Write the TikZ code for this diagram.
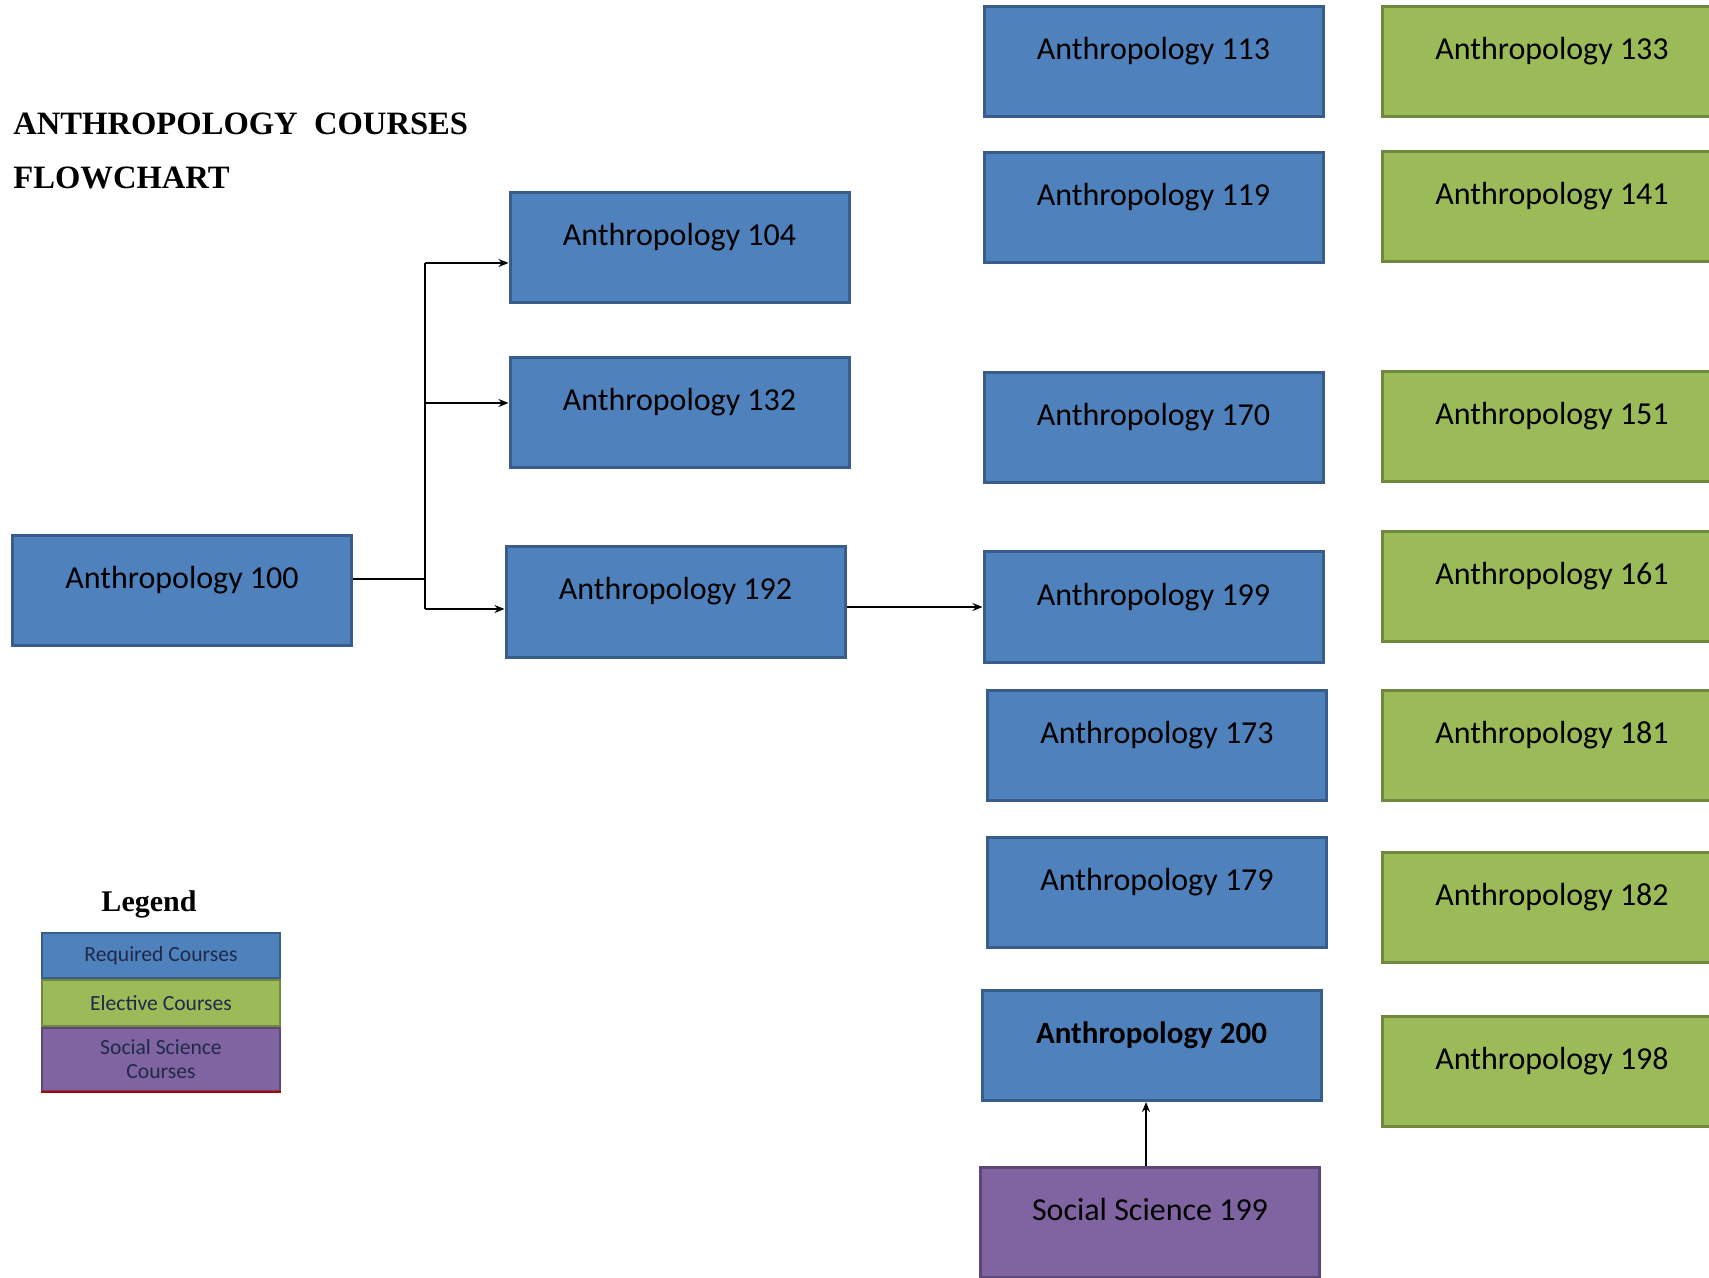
\documentclass[tikz,border=0pt]{standalone}
\usepackage{fontspec}
\setmainfont{Liberation Serif}
\newfontfamily\boxfont{Carlito}
\usetikzlibrary{arrows.meta,positioning}

\definecolor{reqblue}{HTML}{4F81BD}
\definecolor{reqedge}{HTML}{385D8A}
\definecolor{elegreen}{HTML}{9BBB59}
\definecolor{eleedge}{HTML}{71893F}
\definecolor{sspurple}{HTML}{8064A2}
\definecolor{ssedge}{HTML}{5C4776}
\definecolor{legendtext}{HTML}{1F2A48}

\begin{document}
\begin{tikzpicture}[x=.5pt, y=-.5pt,
        course/.style={draw=reqedge, line width=1.5pt, fill=reqblue,
            minimum width=169.5pt, minimum height=55pt, inner sep=0pt,
            text height=10pt, text depth=12pt, text=black,
            font=\boxfont\fontsize{16}{18}\selectfont},
        elective/.style={course, draw=eleedge, fill=elegreen},
        social/.style={course, draw=ssedge, fill=sspurple},
        key/.style={draw=reqedge, line width=1pt, fill=reqblue,
            minimum width=119pt, inner sep=0pt, align=center, text=legendtext,
            font=\boxfont\fontsize{10.8}{12}\selectfont},
        link/.style={line width=1pt, -{Stealth[length=5pt,width=4pt]}}
    ]
    \useasboundingbox (0,0) rectangle (1709,1278);

    % title
    \node[anchor=base west, inner sep=0pt, align=left,
        font=\bfseries\fontsize{16.3}{27}\selectfont] (title) at (13,189)
        {ANTHROPOLOGY\ \ COURSES\\FLOWCHART};

    % required courses
    \node[course] (a100) at (182,590.5) {Anthropology 100};
    \node[course] (a104) at (679.5,247.5) {Anthropology 104};
    \node[course] (a132) at (679.5,413) {Anthropology 132};
    \node[course] (a192) at (675.5,602) {Anthropology 192};
    \node[course] (a113) at (1153.5,62) {Anthropology 113};
    \node[course] (a119) at (1153.5,207.5) {Anthropology 119};
    \node[course] (a170) at (1153.5,427.5) {Anthropology 170};
    \node[course] (a199) at (1153.5,607) {Anthropology 199};
    \node[course] (a173) at (1157,745) {Anthropology 173};
    \node[course] (a179) at (1157,892.5) {Anthropology 179};
    \node[course, font=\boxfont\bfseries\fontsize{15.5}{18}\selectfont] (a200) at (1151.5,1045.5) {Anthropology 200};
    \node[social] (ss199) at (1150,1222.5) {Social Science 199};

    % electives
    \node[elective] (a133) at (1552,62) {Anthropology 133};
    \node[elective] (a141) at (1552,207) {Anthropology 141};
    \node[elective] (a151) at (1552,427) {Anthropology 151};
    \node[elective] (a161) at (1552,586.5) {Anthropology 161};
    \node[elective] (a181) at (1552,745) {Anthropology 181};
    \node[elective] (a182) at (1552,907) {Anthropology 182};
    \node[elective] (a198) at (1552,1071.5) {Anthropology 198};

    % connectors
    \coordinate (fork) at (425,579);
    \coordinate (to104) at ([yshift=-7.75pt]a104.west);
    \coordinate (to132) at ([yshift=5pt]a132.west);
    \coordinate (to192) at ([yshift=-3.5pt]a192.west);
    \coordinate (from199) at ([xshift=-2pt]ss199.north);
    \draw[line width=1pt] (fork -| a100.east) -- (fork);
    \draw[line width=1pt] (fork |- to104) -- (fork |- to192);
    \draw[link] (fork |- to104) -- (to104);
    \draw[link] (fork |- to132) -- (to132);
    \draw[link] (fork |- to192) -- (to192);
    \draw[link] (a192.east |- a199.west) -- (a199.west);
    \draw[link] (from199) -- (from199 |- a200.south);

    % legend
    \node[font=\bfseries\fontsize{15}{18}\selectfont] (legend) at (149,904) {Legend};
    \node[key, minimum height=22.5pt] (lreq) at (161,955.5) {Required Courses};
    \node[key, minimum height=23pt, below=0pt of lreq, draw=eleedge, fill=elegreen] (lele) {Elective Courses};
    \node[key, minimum height=31.5pt, below=0pt of lele, draw=ssedge, fill=sspurple] (lsoc) {Social Science\\Courses};
    \draw[red!70!black, line width=1pt] (lsoc.south west) -- (lsoc.south east);
\end{tikzpicture}
\end{document}
